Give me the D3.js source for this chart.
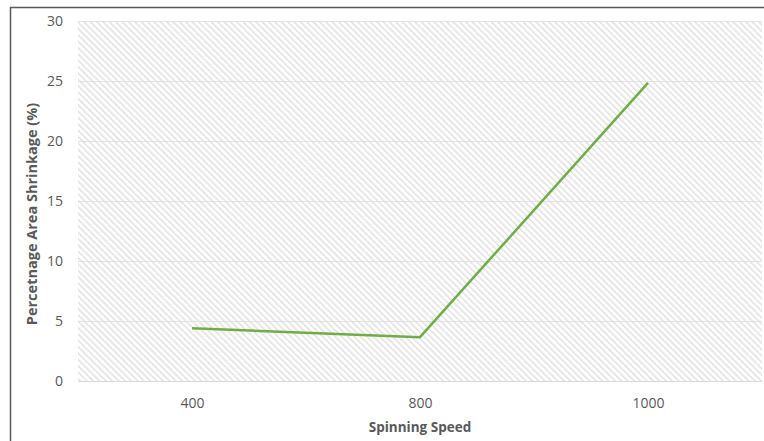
<!DOCTYPE html>
<html><head><meta charset="utf-8">
<script src="https://cdn.jsdelivr.net/npm/d3@7"></script>
<style>html,body{margin:0;padding:0;background:#fff;}svg{display:block;}</style>
</head><body>
<svg id="chart" width="764" height="441"></svg>
<script>
const categories = ["400", "800", "1000"];
const values = [4.4, 3.65, 24.85];
const yTicks = [0, 5, 10, 15, 20, 25, 30];
const xTitle = "Spinning Speed";
const yTitle = "Percetnage Area Shrinkage (%)";

const svg = d3.select("#chart");
const W = 764, H = 441;
const m = {left: 78, right: 2, top: 21, bottom: 60};
const x = d3.scalePoint().domain(categories).range([m.left, W - m.right]).padding(0.5);
const y = d3.scaleLinear().domain([0, 30]).range([H - m.bottom, m.top]);

// frame
svg.append("line").attr("x1", 10).attr("x2", W).attr("y1", 7.5).attr("y2", 7.5).attr("stroke", "#595959").attr("stroke-width", 1.5);
svg.append("line").attr("x1", 10.5).attr("x2", 10.5).attr("y1", 7).attr("y2", H).attr("stroke", "#595959").attr("stroke-width", 1.5);

const defs = svg.append("defs");
const pat = defs.append("pattern").attr("id", "hatch").attr("patternUnits", "userSpaceOnUse")
  .attr("width", 4.5).attr("height", 4.5).attr("patternTransform", "rotate(45)");
pat.append("line").attr("x1", 0).attr("x2", 4.5).attr("y1", 1).attr("y2", 1).attr("stroke", "#d6d6d6").attr("stroke-width", 1.1);

svg.append("rect").attr("x", m.left).attr("y", m.top).attr("width", W - m.left - m.right).attr("height", H - m.top - m.bottom).attr("fill", "url(#hatch)");

// gridlines
svg.append("g").selectAll("line").data(yTicks).join("line")
  .attr("x1", m.left).attr("x2", W - m.right)
  .attr("y1", d => Math.round(y(d)) + 0.5).attr("y2", d => Math.round(y(d)) + 0.5)
  .attr("stroke", "#e2e2e2").attr("stroke-width", 1);

const font = "'Open Sans', sans-serif";
// y axis
const ya = svg.append("g").attr("transform", `translate(${m.left},0)`)
  .call(d3.axisLeft(y).tickValues(yTicks).tickSize(0).tickPadding(15));
ya.select(".domain").remove();
ya.selectAll("text").attr("fill", "#595959").attr("font-size", 14).attr("font-family", font);

// x axis
const xa = svg.append("g").attr("transform", `translate(0,${H - m.bottom})`)
  .call(d3.axisBottom(x).tickSize(0).tickPadding(17));
xa.select(".domain").attr("stroke", "#d9d9d9");
xa.selectAll("text").attr("fill", "#595959").attr("font-size", 14).attr("font-family", font);

// line
svg.append("path").datum(values.map((v, i) => [categories[i], v]))
  .attr("fill", "none").attr("stroke", "#70ad47").attr("stroke-width", 2.5).attr("stroke-linejoin", "round")
  .attr("d", d3.line().x(d => x(d[0])).y(d => y(d[1])));

// titles
svg.append("text").attr("x", (m.left + W - m.right) / 2).attr("y", 432).attr("text-anchor", "middle")
  .attr("font-family", font).attr("font-weight", "bold").attr("font-size", 13.5).attr("fill", "#595959").text(xTitle);
svg.append("text").attr("transform", `translate(37,214) rotate(-90)`).attr("text-anchor", "middle")
  .attr("font-family", font).attr("font-weight", "bold").attr("font-size", 14.5).attr("fill", "#595959").text(yTitle);
</script>
</body></html>
